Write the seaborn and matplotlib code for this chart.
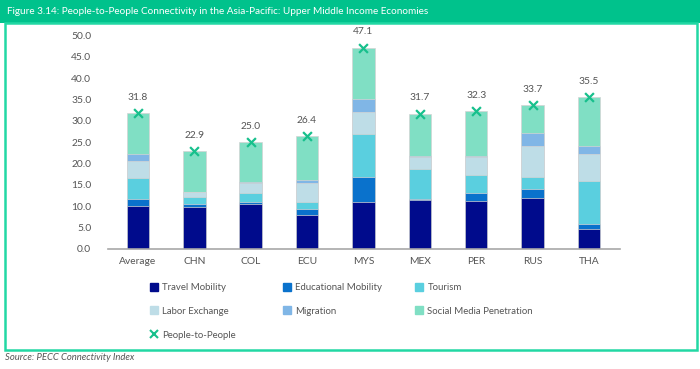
import matplotlib
matplotlib.use("Agg")
import matplotlib.pyplot as plt
import matplotlib.patches as mpatches
from matplotlib.lines import Line2D
import numpy as np
import pandas as pd
import seaborn as sns

categories = ["Average", "CHN", "COL", "ECU", "MYS", "MEX", "PER", "RUS", "THA"]
travel = [9.9, 9.8, 10.4, 8.0, 11.0, 11.4, 11.3, 11.9, 4.6]
educational = [1.8, 0.7, 0.6, 1.2, 5.8, 0.3, 1.8, 2.1, 1.3]
tourism = [4.8, 1.7, 2.1, 1.8, 10.1, 7.0, 4.3, 2.8, 10.0]
labor = [4.1, 1.0, 2.2, 4.3, 5.2, 2.8, 4.2, 7.4, 6.2]
migration = [1.5, 0.2, 0.3, 0.8, 3.0, 0.3, 0.2, 3.0, 2.1]
social = [9.7, 9.5, 9.4, 10.3, 12.0, 9.9, 10.5, 6.5, 11.3]
people = [31.8, 22.9, 25.0, 26.4, 47.1, 31.7, 32.3, 33.7, 35.5]
yticks = [0, 5, 10, 15, 20, 25, 30, 35, 40, 45, 50]

series_names = ["Travel Mobility", "Educational Mobility", "Tourism",
                "Labor Exchange", "Migration", "Social Media Penetration"]
series_vals = [travel, educational, tourism, labor, migration, social]
colors = ["#000B8C", "#0A72CC", "#5ACFDF", "#BEDDE7", "#80B6E6", "#80DFC4"]
marker_color = "#17C08C"
green = "#00C28C"
border_green = "#22D8A4"
text_gray = "#555555"

sns.set_theme(style="white")
plt.rcParams["font.family"] = ["Lato", "DejaVu Sans"]

fig = plt.figure(figsize=(7.0, 3.69), dpi=100)
W, H = 700, 369

def fx(px):
    return px / W

def fy(py):
    return 1 - py / H

# header band and frame
fig.patches.append(mpatches.Rectangle((0, fy(23)), 1, 23 / H, transform=fig.transFigure,
                                      facecolor=green, edgecolor="none", zorder=0))
fig.patches.append(mpatches.Rectangle((fx(5), fy(350)), fx(692), (350 - 23) / H,
                                      transform=fig.transFigure, facecolor="none",
                                      edgecolor=border_green, linewidth=1.8, zorder=0))
fig.text(fx(7), fy(11.5), "Figure 3.14: People-to-People Connectivity in the Asia-Pacific: Upper Middle Income Economies",
         color="white", fontsize=7.2, va="center", ha="left")
fig.text(fx(5), fy(358), "Source: PECC Connectivity Index", color=text_gray,
         fontsize=6.8, style="italic", va="center", ha="left")

ax = fig.add_axes([fx(108), fy(248.7), fx(620 - 108), (248.7 - 27) / H])

cum = np.zeros(len(categories))
cums = []
for vals in series_vals:
    cum = cum + np.array(vals)
    cums.append(cum.copy())

# draw cumulative bars from top down so each layer shows its own segment
for name, c, col in reversed(list(zip(series_names, cums, colors))):
    d = pd.DataFrame({"cat": categories, "val": c})
    sns.barplot(data=d, x="cat", y="val", color=col, width=0.4, ax=ax,
                edgecolor="#d4d4d4", linewidth=0.5, saturation=1, zorder=2)

pdf = pd.DataFrame({"cat": categories, "val": people})
sns.scatterplot(data=pdf, x="cat", y="val", marker="x", color=marker_color,
                s=40, linewidth=1.6, ax=ax, zorder=5)
for i, v in enumerate(people):
    ax.annotate(f"{v:.1f}", (i, v), xytext=(0, 11.5), textcoords="offset points",
                ha="center", va="center", fontsize=7.4, color=text_gray,
                annotation_clip=False, zorder=6)

ax.set_ylim(0, 52)
ax.set_xlim(-0.53, 8.55)
ax.set_yticks(yticks)
ax.set_yticklabels([f"{t:.1f}" for t in yticks])
ax.set_xlabel("")
ax.set_ylabel("")
ax.tick_params(axis="y", labelsize=7.4, colors=text_gray, length=0, pad=12)
ax.tick_params(axis="x", labelsize=7.4, colors=text_gray, length=0, pad=6)
for s in ["top", "right", "left"]:
    ax.spines[s].set_visible(False)
ax.spines["bottom"].set_color("#a8a8a8")
ax.spines["bottom"].set_linewidth(1.2)
ax.set_facecolor("none")

# legend: three columns
def sq(col):
    return Line2D([], [], marker="s", linestyle="none", markersize=5.5,
                  markerfacecolor=col, markeredgecolor=col)

xmark = Line2D([], [], marker="x", linestyle="none", markersize=6,
               markeredgewidth=1.5, color=marker_color)
cols = [
    ([sq(colors[0]), sq(colors[3]), xmark], [series_names[0], series_names[3], "People-to-People"], 150),
    ([sq(colors[1]), sq(colors[4])], [series_names[1], series_names[4]], 283),
    ([sq(colors[2]), sq(colors[5])], [series_names[2], series_names[5]], 415),
]
for handles, labels, xpx in cols:
    leg = fig.legend(handles, labels, loc="upper left", bbox_to_anchor=(fx(xpx), fy(283)),
                     frameon=False, fontsize=6.9, handlelength=0.8, handletextpad=0.5,
                     labelspacing=1.55, borderaxespad=0, borderpad=0)
    for t in leg.get_texts():
        t.set_color(text_gray)

fig.savefig("out.png", dpi=100, facecolor="white")
